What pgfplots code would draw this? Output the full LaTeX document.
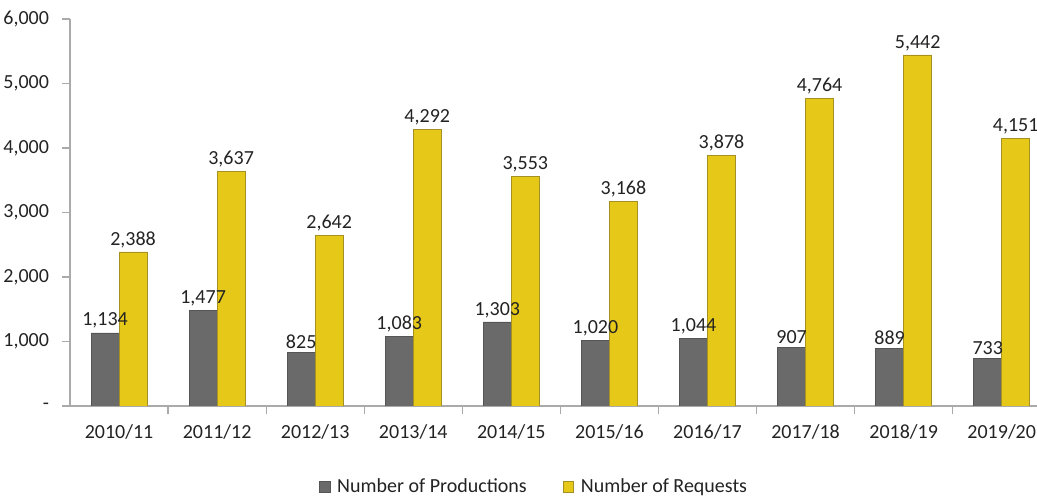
\documentclass[border=0pt]{standalone}
\usepackage{fontspec}
\setmainfont{Carlito}
\usepackage{pgfplots}
\pgfplotsset{compat=1.18}
\definecolor{prodgray}{RGB}{106,106,106}
\definecolor{reqyellow}{RGB}{230,201,24}
\definecolor{reqedge}{RGB}{165,145,35}
\definecolor{axisgray}{RGB}{170,170,170}
\definecolor{txt}{RGB}{35,35,35}
\begin{document}
\fontsize{10}{12}\selectfont
\begin{tikzpicture}
\begin{axis}[
  name=ax,
  scale only axis,
  width=483.5pt, height=193.5pt,
  xmin=-0.5, xmax=9.36,
  ymin=0, ymax=6000,
  axis lines=left,
  axis line style={draw=axisgray, line width=0.6pt, -},
  ybar=0pt,
  bar width=14pt,
  xtick={0,...,9},
  xticklabels={2010/11,2011/12,2012/13,2013/14,2014/15,2015/16,2016/17,2017/18,2018/19,2019/20},
  minor xtick={0.5,1.5,...,8.5},
  xtick style={draw=none},
  minor x tick style={draw=axisgray, line width=0.6pt},
  minor tick length=4pt,
  ytick={0,1000,...,6000},
  yticklabels={-,{1,000},{2,000},{3,000},{4,000},{5,000},{6,000}},
  y tick style={draw=axisgray, line width=0.6pt},
  major tick length=4pt,
  tick align=outside,
  ticklabel style={font=\fontsize{10}{12}\selectfont, text=txt},
  xticklabel style={yshift=-2pt},
  yticklabel style={xshift=-3pt},
  /pgf/number format/.cd, 1000 sep={,}, assume math mode=true, /pgfplots/.cd,
  nodes near coords,
  nodes near coords style={font=\fontsize{10}{12}\selectfont, text=txt, inner sep=2pt},
  legend style={draw=none, at={(0.481,-0.209)}, anchor=center, legend columns=2,
    font=\fontsize{10}{12}\selectfont, text=txt,
    /tikz/every even column/.append style={column sep=16pt}},
  legend image code/.code={\fill[#1] (0pt,-2.6pt) rectangle (5.2pt,2.6pt);},
]
\addplot[fill=prodgray, draw=prodgray!80!black, line width=0.3pt] coordinates {
(0,1134) (1,1477) (2,825) (3,1083) (4,1303) (5,1020) (6,1044) (7,907) (8,889) (9,733)};
\addplot[fill=reqyellow, draw=reqedge, line width=0.4pt] coordinates {
(0,2388) (1,3637) (2,2642) (3,4292) (4,3553) (5,3168) (6,3878) (7,4764) (8,5442) (9,4151)};
\legend{\hspace{1.5pt}Number of Productions, \hspace{1.5pt}Number of Requests}
\end{axis}
\pgfresetboundingbox
\path[use as bounding box] ([xshift=-35pt, yshift=-45.5pt]ax.south west) rectangle ([xshift=483.5pt, yshift=203pt]ax.south west);
\end{tikzpicture}
\end{document}
